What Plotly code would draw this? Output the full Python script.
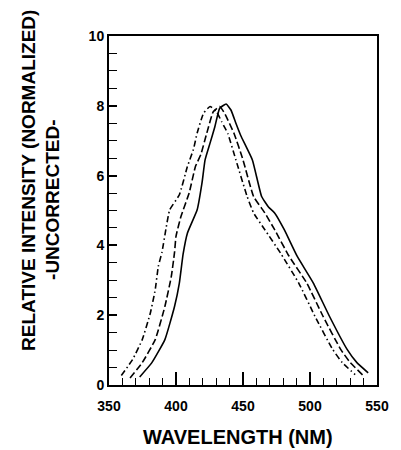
import plotly.graph_objects as go

# Wavelength (nm) / relative intensity for three spectra
solid_x = [372.9, 382.0, 391.7, 398.9, 402.5, 405.3, 408.5, 415.8, 419.4, 421.7, 425.4, 429.0, 432.6, 437.4,
           441.0, 444.7, 448.3, 457.0, 463.9, 469.0, 473.6, 480.8, 490.4, 502.5, 514.5, 527.7, 535.0, 543.4]
solid_y = [0.23, 0.64, 1.30, 2.25, 2.92, 3.75, 4.35, 5.02, 5.79, 6.45, 6.93, 7.40, 7.93, 8.05,
           7.88, 7.50, 7.15, 6.45, 5.40, 5.10, 4.93, 4.45, 3.69, 2.92, 1.97, 1.02, 0.64, 0.35]

dashed_x = [365.7, 374.8, 384.5, 391.7, 396.5, 398.9, 400.0, 403.7, 409.8, 414.5, 418.5, 423.0, 427.8, 432.6,
            436.2, 443.4, 450.0, 457.9, 466.3, 473.6, 484.4, 497.6, 509.7, 522.9, 530.1, 539.8]
dashed_y = [0.20, 0.64, 1.30, 2.25, 3.11, 3.80, 4.26, 4.83, 5.50, 6.26, 6.60, 7.22, 7.83, 7.98,
            7.79, 7.20, 6.45, 5.40, 4.93, 4.45, 3.69, 2.92, 1.97, 1.02, 0.64, 0.27]

dashdot_x = [359.2, 367.6, 374.8, 380.9, 384.5, 386.8, 389.5, 392.8, 395.3, 402.5, 408.5, 413.0, 415.8, 420.6,
             425.4, 430.2, 434.0, 438.7, 444.7, 453.1, 457.9, 466.3, 478.5, 491.6, 503.7, 516.9, 524.1, 533.7]
dashdot_y = [0.27, 0.73, 1.30, 2.07, 2.73, 3.40, 3.80, 4.54, 5.02, 5.45, 6.26, 6.75, 7.22, 7.79,
             7.98, 7.83, 7.55, 7.20, 6.45, 5.40, 4.93, 4.45, 3.75, 2.92, 1.97, 1.02, 0.64, 0.30]

x_ticks = [350, 400, 450, 500, 550]
y_ticks = [0, 2, 4, 6, 8, 10]

FONT = "Liberation Sans, Arial, sans-serif"

fig = go.Figure()
for xs, ys, dash in [(dashdot_x, dashdot_y, "6px,3px,1.5px,3px"),
                     (dashed_x, dashed_y, "7px,3px"),
                     (solid_x, solid_y, "solid")]:
    fig.add_trace(go.Scatter(x=xs, y=ys, mode="lines",
                             line=dict(color="black", width=1.6, dash=dash,
                                       shape="spline", smoothing=0.4),
                             showlegend=False, hoverinfo="skip"))

axis_common = dict(showgrid=False, zeroline=False, showline=True, linecolor="black",
                   linewidth=2, mirror=True, ticks="inside", tickcolor="black",
                   tickwidth=1.5, tickfont=dict(family=FONT, size=14, color="black", weight="bold"))

fig.update_xaxes(range=[350, 550], tickvals=x_ticks, ticklen=13, ticklabelstandoff=7,
                 minor=dict(dtick=10, ticks="inside", ticklen=7, tickcolor="black", tickwidth=1.2),
                 **axis_common)
fig.update_yaxes(range=[0, 10], tickvals=y_ticks, ticklen=8,
                 minor=dict(dtick=0.5, ticks="inside", ticklen=8, tickcolor="black", tickwidth=1.2),
                 **axis_common)

fig.add_annotation(text="RELATIVE INTENSITY (NORMALIZED)", xref="paper", yref="paper",
                   x=-0.303, y=0.587, xanchor="center", yanchor="middle", textangle=-90,
                   showarrow=False, font=dict(family=FONT, size=19, color="black", weight="bold"))
fig.add_annotation(text="-UNCORRECTED-", xref="paper", yref="paper",
                   x=-0.213, y=0.53, xanchor="center", yanchor="middle", textangle=-90,
                   showarrow=False, font=dict(family=FONT, size=19, color="black", weight="bold"))
fig.add_annotation(text="WAVELENGTH (NM)", xref="paper", yref="paper",
                   x=0.48, y=-0.148, xanchor="center", yanchor="middle",
                   showarrow=False, font=dict(family=FONT, size=20, color="black", weight="bold"))

# page body has an 8px default margin; compensate so the plot lands where the reference has it
fig.update_layout(width=393, height=442, margin=dict(l=101, r=15, t=28, b=65),
                  paper_bgcolor="white", plot_bgcolor="white")

fig.write_html("out.html")
